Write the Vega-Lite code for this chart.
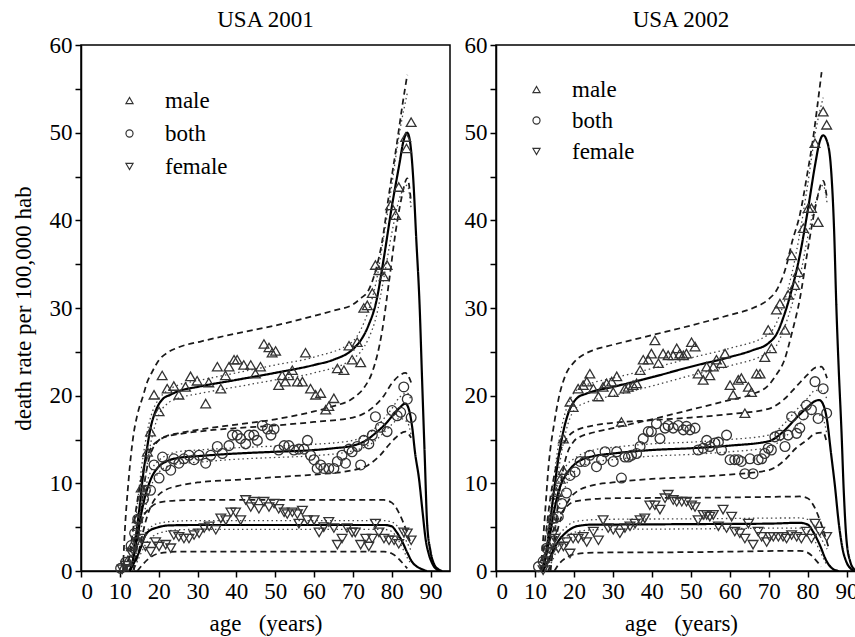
{
"$schema": "https://vega.github.io/schema/vega-lite/v6.json",
"padding": {"left": 11, "top": 8, "right": 0, "bottom": 0},
"background": "white",
"spacing": 12,
"config": {
 "font": "Liberation Serif",
 "view": {"stroke": "black", "strokeWidth": 1.5},
 "title": {"font": "Liberation Serif", "fontSize": 23, "fontWeight": "normal", "color": "black", "offset": 2, "anchor": "middle", "frame": "group"},
 "axis": {"labelFont": "Liberation Serif", "labelFontSize": 23, "labelColor": "black", "titleFont": "Liberation Serif", "titleFontSize": 23, "titleFontWeight": "normal", "titleColor": "black", "domainColor": "black", "domainWidth": 1.5, "tickColor": "black", "tickWidth": 1.5, "tickSize": 6, "grid": false, "labelPadding": 3},
 "legend": {"labelFont": "Liberation Serif", "labelFontSize": 23, "labelColor": "black"}
},
"datasets": {
"pts": [
{"p":"2001","s":"male","a":11,"v":0.5},{"p":"2001","s":"male","a":12,"v":1.2},{"p":"2001","s":"male","a":13,"v":2.8},{"p":"2001","s":"male","a":14.5,"v":6},{"p":"2001","s":"male","a":15.5,"v":9.5},{"p":"2001","s":"male","a":17.1,"v":13.6},{"p":"2001","s":"male","a":17.9,"v":15.9},{"p":"2001","s":"male","a":18.8,"v":20.1},{"p":"2001","s":"male","a":20.1,"v":18.2},{"p":"2001","s":"male","a":20.9,"v":22.3},{"p":"2001","s":"male","a":22.2,"v":20.8},{"p":"2001","s":"male","a":23.9,"v":21.1},{"p":"2001","s":"male","a":25.2,"v":20.1},{"p":"2001","s":"male","a":26.9,"v":21.0},{"p":"2001","s":"male","a":28.2,"v":22.2},{"p":"2001","s":"male","a":29.9,"v":21.7},{"p":"2001","s":"male","a":32.1,"v":19.1},{"p":"2001","s":"male","a":32.9,"v":21.5},{"p":"2001","s":"male","a":35.1,"v":23.3},{"p":"2001","s":"male","a":36.0,"v":20.8},{"p":"2001","s":"male","a":37.2,"v":22.3},{"p":"2001","s":"male","a":38.1,"v":23.3},{"p":"2001","s":"male","a":39.4,"v":24.1},{"p":"2001","s":"male","a":40.2,"v":24.1},{"p":"2001","s":"male","a":41.9,"v":23.5},{"p":"2001","s":"male","a":43.7,"v":23.5},{"p":"2001","s":"male","a":44.9,"v":22.5},{"p":"2001","s":"male","a":46.2,"v":23.3},{"p":"2001","s":"male","a":47.1,"v":25.9},{"p":"2001","s":"male","a":48.4,"v":25.5},{"p":"2001","s":"male","a":49.2,"v":24.9},{"p":"2001","s":"male","a":50.1,"v":25.1},{"p":"2001","s":"male","a":50.9,"v":21.2},{"p":"2001","s":"male","a":51.8,"v":22.3},{"p":"2001","s":"male","a":52.6,"v":21.6},{"p":"2001","s":"male","a":53.5,"v":22.3},{"p":"2001","s":"male","a":54.4,"v":22.9},{"p":"2001","s":"male","a":55.7,"v":21.6},{"p":"2001","s":"male","a":57.0,"v":21.6},{"p":"2001","s":"male","a":57.8,"v":24.9},{"p":"2001","s":"male","a":59.1,"v":20.8},{"p":"2001","s":"male","a":60.4,"v":20.1},{"p":"2001","s":"male","a":61.7,"v":20.3},{"p":"2001","s":"male","a":63.0,"v":18.4},{"p":"2001","s":"male","a":63.8,"v":18.8},{"p":"2001","s":"male","a":65.1,"v":19.7},{"p":"2001","s":"male","a":66.0,"v":23.1},{"p":"2001","s":"male","a":67.7,"v":22.9},{"p":"2001","s":"male","a":69.0,"v":25.7},{"p":"2001","s":"male","a":69.8,"v":24.1},{"p":"2001","s":"male","a":71.1,"v":26.1},{"p":"2001","s":"male","a":72.0,"v":23.8},{"p":"2001","s":"male","a":72.8,"v":30.0},{"p":"2001","s":"male","a":73.7,"v":30.3},{"p":"2001","s":"male","a":75.0,"v":31.7},{"p":"2001","s":"male","a":75.8,"v":34.9},{"p":"2001","s":"male","a":76.7,"v":34.3},{"p":"2001","s":"male","a":78.0,"v":33.6},{"p":"2001","s":"male","a":78.8,"v":34.9},{"p":"2001","s":"male","a":79.7,"v":41.7},{"p":"2001","s":"male","a":81.0,"v":40.6},{"p":"2001","s":"male","a":81.8,"v":43.8},{"p":"2001","s":"male","a":83.6,"v":49.5},{"p":"2001","s":"male","a":83.8,"v":48.2},{"p":"2001","s":"male","a":85.0,"v":51.2},
{"p":"2001","s":"both","a":10.2,"v":0.3},{"p":"2001","s":"both","a":11.5,"v":1.0},{"p":"2001","s":"both","a":12.9,"v":2.9},{"p":"2001","s":"both","a":13.8,"v":4.3},{"p":"2001","s":"both","a":14.6,"v":5.9},{"p":"2001","s":"both","a":16.1,"v":8.2},{"p":"2001","s":"both","a":16.6,"v":9.2},{"p":"2001","s":"both","a":17.9,"v":9.2},{"p":"2001","s":"both","a":18.8,"v":12.1},{"p":"2001","s":"both","a":20.1,"v":10.6},{"p":"2001","s":"both","a":21.0,"v":13.0},{"p":"2001","s":"both","a":21.8,"v":12.0},{"p":"2001","s":"both","a":23.1,"v":11.5},{"p":"2001","s":"both","a":23.9,"v":12.8},{"p":"2001","s":"both","a":25.2,"v":12.3},{"p":"2001","s":"both","a":26.5,"v":12.8},{"p":"2001","s":"both","a":27.8,"v":13.2},{"p":"2001","s":"both","a":29.1,"v":12.7},{"p":"2001","s":"both","a":30.4,"v":13.2},{"p":"2001","s":"both","a":32.1,"v":12.3},{"p":"2001","s":"both","a":33.4,"v":13.2},{"p":"2001","s":"both","a":35.1,"v":14.2},{"p":"2001","s":"both","a":36.4,"v":13.4},{"p":"2001","s":"both","a":38.1,"v":14.3},{"p":"2001","s":"both","a":39.0,"v":15.5},{"p":"2001","s":"both","a":40.2,"v":15.5},{"p":"2001","s":"both","a":41.1,"v":15.1},{"p":"2001","s":"both","a":42.4,"v":14.5},{"p":"2001","s":"both","a":43.3,"v":15.5},{"p":"2001","s":"both","a":44.5,"v":15.5},{"p":"2001","s":"both","a":45.4,"v":14.9},{"p":"2001","s":"both","a":46.7,"v":16.6},{"p":"2001","s":"both","a":48.0,"v":16.2},{"p":"2001","s":"both","a":48.9,"v":15.5},{"p":"2001","s":"both","a":49.7,"v":16.2},{"p":"2001","s":"both","a":50.9,"v":13.8},{"p":"2001","s":"both","a":52.3,"v":14.3},{"p":"2001","s":"both","a":53.5,"v":14.3},{"p":"2001","s":"both","a":54.8,"v":13.8},{"p":"2001","s":"both","a":56.1,"v":13.9},{"p":"2001","s":"both","a":57.4,"v":13.9},{"p":"2001","s":"both","a":58.3,"v":14.9},{"p":"2001","s":"both","a":59.1,"v":13.2},{"p":"2001","s":"both","a":60.0,"v":12.7},{"p":"2001","s":"both","a":60.8,"v":11.7},{"p":"2001","s":"both","a":61.7,"v":12.1},{"p":"2001","s":"both","a":62.5,"v":11.7},{"p":"2001","s":"both","a":63.8,"v":11.7},{"p":"2001","s":"both","a":65.1,"v":11.7},{"p":"2001","s":"both","a":66.0,"v":12.5},{"p":"2001","s":"both","a":67.2,"v":13.2},{"p":"2001","s":"both","a":68.1,"v":12.3},{"p":"2001","s":"both","a":69.0,"v":13.9},{"p":"2001","s":"both","a":69.8,"v":13.6},{"p":"2001","s":"both","a":71.1,"v":14.2},{"p":"2001","s":"both","a":72.0,"v":12.1},{"p":"2001","s":"both","a":72.8,"v":14.9},{"p":"2001","s":"both","a":74.1,"v":14.5},{"p":"2001","s":"both","a":75.0,"v":15.5},{"p":"2001","s":"both","a":75.8,"v":17.6},{"p":"2001","s":"both","a":77.1,"v":16.4},{"p":"2001","s":"both","a":78.8,"v":15.9},{"p":"2001","s":"both","a":80.1,"v":18.3},{"p":"2001","s":"both","a":81.4,"v":17.7},{"p":"2001","s":"both","a":82.3,"v":18.1},{"p":"2001","s":"both","a":83.1,"v":21.0},{"p":"2001","s":"both","a":84.0,"v":19.6},{"p":"2001","s":"both","a":85.0,"v":17.5},
{"p":"2001","s":"female","a":10.6,"v":0.2},{"p":"2001","s":"female","a":11.5,"v":0.6},{"p":"2001","s":"female","a":12.9,"v":2.1},{"p":"2001","s":"female","a":14.3,"v":3.3},{"p":"2001","s":"female","a":15.6,"v":3.7},{"p":"2001","s":"female","a":16.6,"v":2.8},{"p":"2001","s":"female","a":17.9,"v":2.2},{"p":"2001","s":"female","a":19.2,"v":3.3},{"p":"2001","s":"female","a":20.1,"v":2.8},{"p":"2001","s":"female","a":21.8,"v":3.0},{"p":"2001","s":"female","a":23.1,"v":2.6},{"p":"2001","s":"female","a":23.9,"v":4.1},{"p":"2001","s":"female","a":25.2,"v":3.9},{"p":"2001","s":"female","a":26.5,"v":3.7},{"p":"2001","s":"female","a":27.8,"v":3.7},{"p":"2001","s":"female","a":29.1,"v":4.1},{"p":"2001","s":"female","a":30.4,"v":4.3},{"p":"2001","s":"female","a":31.7,"v":4.9},{"p":"2001","s":"female","a":33.0,"v":5.1},{"p":"2001","s":"female","a":34.7,"v":4.7},{"p":"2001","s":"female","a":36.0,"v":6.0},{"p":"2001","s":"female","a":37.3,"v":5.8},{"p":"2001","s":"female","a":38.6,"v":6.7},{"p":"2001","s":"female","a":39.8,"v":6.7},{"p":"2001","s":"female","a":41.1,"v":5.8},{"p":"2001","s":"female","a":42.4,"v":8.1},{"p":"2001","s":"female","a":43.7,"v":7.3},{"p":"2001","s":"female","a":44.5,"v":7.9},{"p":"2001","s":"female","a":45.8,"v":7.1},{"p":"2001","s":"female","a":47.1,"v":7.9},{"p":"2001","s":"female","a":48.4,"v":7.3},{"p":"2001","s":"female","a":49.7,"v":7.7},{"p":"2001","s":"female","a":50.9,"v":7.1},{"p":"2001","s":"female","a":52.3,"v":6.7},{"p":"2001","s":"female","a":53.1,"v":6.5},{"p":"2001","s":"female","a":54.4,"v":6.7},{"p":"2001","s":"female","a":55.7,"v":6.5},{"p":"2001","s":"female","a":56.1,"v":5.4},{"p":"2001","s":"female","a":57.0,"v":6.9},{"p":"2001","s":"female","a":58.3,"v":5.8},{"p":"2001","s":"female","a":60.0,"v":5.8},{"p":"2001","s":"female","a":61.3,"v":4.4},{"p":"2001","s":"female","a":62.5,"v":5.0},{"p":"2001","s":"female","a":63.8,"v":5.6},{"p":"2001","s":"female","a":65.1,"v":4.9},{"p":"2001","s":"female","a":66.0,"v":3.0},{"p":"2001","s":"female","a":67.2,"v":3.7},{"p":"2001","s":"female","a":68.5,"v":4.9},{"p":"2001","s":"female","a":69.8,"v":4.4},{"p":"2001","s":"female","a":70.6,"v":4.4},{"p":"2001","s":"female","a":72.0,"v":3.0},{"p":"2001","s":"female","a":73.3,"v":3.7},{"p":"2001","s":"female","a":74.1,"v":2.8},{"p":"2001","s":"female","a":75.0,"v":3.7},{"p":"2001","s":"female","a":75.8,"v":5.4},{"p":"2001","s":"female","a":76.7,"v":4.4},{"p":"2001","s":"female","a":78.0,"v":3.7},{"p":"2001","s":"female","a":79.3,"v":3.5},{"p":"2001","s":"female","a":80.6,"v":3.5},{"p":"2001","s":"female","a":81.8,"v":3.1},{"p":"2001","s":"female","a":83.1,"v":4.4},{"p":"2001","s":"female","a":84.0,"v":4.3},{"p":"2001","s":"female","a":85.0,"v":3.5},
{"p":"2002","s":"male","a":12.5,"v":1.5},{"p":"2002","s":"male","a":13.5,"v":3},{"p":"2002","s":"male","a":14.5,"v":6},{"p":"2002","s":"male","a":15.5,"v":9},{"p":"2002","s":"male","a":16.5,"v":10.5},{"p":"2002","s":"male","a":17.3,"v":11.5},{"p":"2002","s":"male","a":17.3,"v":15.1},{"p":"2002","s":"male","a":19.0,"v":19.3},{"p":"2002","s":"male","a":19.8,"v":18.7},{"p":"2002","s":"male","a":21.1,"v":20.8},{"p":"2002","s":"male","a":22.4,"v":21.2},{"p":"2002","s":"male","a":23.3,"v":21.6},{"p":"2002","s":"male","a":24.1,"v":22.5},{"p":"2002","s":"male","a":25.0,"v":20.8},{"p":"2002","s":"male","a":26.3,"v":19.9},{"p":"2002","s":"male","a":27.5,"v":21.0},{"p":"2002","s":"male","a":28.4,"v":21.4},{"p":"2002","s":"male","a":29.7,"v":21.6},{"p":"2002","s":"male","a":30.1,"v":20.4},{"p":"2002","s":"male","a":31.0,"v":22.2},{"p":"2002","s":"male","a":32.2,"v":17.0},{"p":"2002","s":"male","a":33.1,"v":20.8},{"p":"2002","s":"male","a":34.0,"v":21.0},{"p":"2002","s":"male","a":35.2,"v":21.2},{"p":"2002","s":"male","a":36.1,"v":21.4},{"p":"2002","s":"male","a":37.0,"v":22.9},{"p":"2002","s":"male","a":37.8,"v":24.1},{"p":"2002","s":"male","a":39.1,"v":24.1},{"p":"2002","s":"male","a":39.9,"v":24.8},{"p":"2002","s":"male","a":40.8,"v":26.3},{"p":"2002","s":"male","a":41.7,"v":23.7},{"p":"2002","s":"male","a":42.9,"v":24.8},{"p":"2002","s":"male","a":44.2,"v":24.6},{"p":"2002","s":"male","a":45.5,"v":24.6},{"p":"2002","s":"male","a":46.4,"v":25.4},{"p":"2002","s":"male","a":47.2,"v":24.8},{"p":"2002","s":"male","a":48.1,"v":24.6},{"p":"2002","s":"male","a":48.9,"v":24.8},{"p":"2002","s":"male","a":50.2,"v":26.1},{"p":"2002","s":"male","a":51.1,"v":25.6},{"p":"2002","s":"male","a":51.9,"v":22.5},{"p":"2002","s":"male","a":53.2,"v":21.8},{"p":"2002","s":"male","a":54.1,"v":23.3},{"p":"2002","s":"male","a":54.9,"v":22.3},{"p":"2002","s":"male","a":55.8,"v":23.3},{"p":"2002","s":"male","a":56.6,"v":24.1},{"p":"2002","s":"male","a":57.9,"v":23.7},{"p":"2002","s":"male","a":58.8,"v":24.8},{"p":"2002","s":"male","a":60.1,"v":21.2},{"p":"2002","s":"male","a":60.9,"v":20.1},{"p":"2002","s":"male","a":62.2,"v":21.8},{"p":"2002","s":"male","a":63.0,"v":22.0},{"p":"2002","s":"male","a":63.9,"v":18.0},{"p":"2002","s":"male","a":64.8,"v":21.0},{"p":"2002","s":"male","a":65.6,"v":20.4},{"p":"2002","s":"male","a":66.9,"v":22.5},{"p":"2002","s":"male","a":67.8,"v":22.5},{"p":"2002","s":"male","a":69.0,"v":24.4},{"p":"2002","s":"male","a":69.9,"v":27.5},{"p":"2002","s":"male","a":70.7,"v":25.4},{"p":"2002","s":"male","a":72.0,"v":29.8},{"p":"2002","s":"male","a":72.9,"v":30.5},{"p":"2002","s":"male","a":74.2,"v":27.5},{"p":"2002","s":"male","a":75.0,"v":31.5},{"p":"2002","s":"male","a":75.9,"v":36.0},{"p":"2002","s":"male","a":76.7,"v":32.6},{"p":"2002","s":"male","a":77.6,"v":34.1},{"p":"2002","s":"male","a":78.9,"v":39.1},{"p":"2002","s":"male","a":80.2,"v":41.4},{"p":"2002","s":"male","a":81.0,"v":41.4},{"p":"2002","s":"male","a":81.9,"v":48.8},{"p":"2002","s":"male","a":82.7,"v":39.8},{"p":"2002","s":"male","a":84.0,"v":52.4},{"p":"2002","s":"male","a":84.9,"v":50.9},
{"p":"2002","s":"both","a":10.9,"v":0.5},{"p":"2002","s":"both","a":12.1,"v":1.1},{"p":"2002","s":"both","a":13.0,"v":2.6},{"p":"2002","s":"both","a":14.3,"v":4.5},{"p":"2002","s":"both","a":14.7,"v":6.0},{"p":"2002","s":"both","a":16.0,"v":6.2},{"p":"2002","s":"both","a":16.9,"v":7.7},{"p":"2002","s":"both","a":18.1,"v":8.9},{"p":"2002","s":"both","a":19.0,"v":10.9},{"p":"2002","s":"both","a":20.3,"v":11.3},{"p":"2002","s":"both","a":21.6,"v":12.5},{"p":"2002","s":"both","a":22.8,"v":12.5},{"p":"2002","s":"both","a":24.1,"v":13.2},{"p":"2002","s":"both","a":25.8,"v":11.9},{"p":"2002","s":"both","a":27.1,"v":12.7},{"p":"2002","s":"both","a":28.0,"v":13.6},{"p":"2002","s":"both","a":30.1,"v":12.5},{"p":"2002","s":"both","a":31.0,"v":13.6},{"p":"2002","s":"both","a":32.2,"v":10.6},{"p":"2002","s":"both","a":33.1,"v":13.0},{"p":"2002","s":"both","a":34.0,"v":13.0},{"p":"2002","s":"both","a":34.8,"v":13.2},{"p":"2002","s":"both","a":36.1,"v":13.4},{"p":"2002","s":"both","a":37.0,"v":14.2},{"p":"2002","s":"both","a":37.8,"v":15.1},{"p":"2002","s":"both","a":39.1,"v":15.9},{"p":"2002","s":"both","a":39.9,"v":15.9},{"p":"2002","s":"both","a":41.2,"v":16.8},{"p":"2002","s":"both","a":42.1,"v":15.1},{"p":"2002","s":"both","a":43.4,"v":16.3},{"p":"2002","s":"both","a":44.2,"v":16.6},{"p":"2002","s":"both","a":45.5,"v":16.3},{"p":"2002","s":"both","a":46.8,"v":16.6},{"p":"2002","s":"both","a":48.1,"v":16.1},{"p":"2002","s":"both","a":48.9,"v":16.5},{"p":"2002","s":"both","a":49.8,"v":16.1},{"p":"2002","s":"both","a":51.1,"v":16.3},{"p":"2002","s":"both","a":51.9,"v":13.8},{"p":"2002","s":"both","a":53.2,"v":14.0},{"p":"2002","s":"both","a":54.1,"v":14.9},{"p":"2002","s":"both","a":54.9,"v":14.2},{"p":"2002","s":"both","a":56.2,"v":14.6},{"p":"2002","s":"both","a":57.1,"v":14.7},{"p":"2002","s":"both","a":57.9,"v":13.8},{"p":"2002","s":"both","a":59.2,"v":15.5},{"p":"2002","s":"both","a":60.1,"v":12.7},{"p":"2002","s":"both","a":61.3,"v":12.7},{"p":"2002","s":"both","a":62.2,"v":12.7},{"p":"2002","s":"both","a":63.0,"v":12.5},{"p":"2002","s":"both","a":63.9,"v":11.1},{"p":"2002","s":"both","a":65.2,"v":12.8},{"p":"2002","s":"both","a":66.0,"v":11.1},{"p":"2002","s":"both","a":67.3,"v":12.7},{"p":"2002","s":"both","a":68.2,"v":12.8},{"p":"2002","s":"both","a":69.0,"v":13.4},{"p":"2002","s":"both","a":69.9,"v":14.0},{"p":"2002","s":"both","a":70.7,"v":13.8},{"p":"2002","s":"both","a":71.6,"v":15.3},{"p":"2002","s":"both","a":72.9,"v":15.5},{"p":"2002","s":"both","a":74.2,"v":14.2},{"p":"2002","s":"both","a":75.0,"v":15.5},{"p":"2002","s":"both","a":75.9,"v":17.6},{"p":"2002","s":"both","a":77.2,"v":15.7},{"p":"2002","s":"both","a":78.0,"v":16.3},{"p":"2002","s":"both","a":78.9,"v":17.8},{"p":"2002","s":"both","a":79.7,"v":18.9},{"p":"2002","s":"both","a":81.0,"v":18.4},{"p":"2002","s":"both","a":81.9,"v":21.6},{"p":"2002","s":"both","a":82.7,"v":17.4},{"p":"2002","s":"both","a":84.0,"v":20.8},{"p":"2002","s":"both","a":84.9,"v":18.0},
{"p":"2002","s":"female","a":12.1,"v":0.1},{"p":"2002","s":"female","a":13.0,"v":1.1},{"p":"2002","s":"female","a":14.3,"v":2.2},{"p":"2002","s":"female","a":15.1,"v":3.7},{"p":"2002","s":"female","a":16.0,"v":2.6},{"p":"2002","s":"female","a":17.3,"v":2.8},{"p":"2002","s":"female","a":18.1,"v":3.3},{"p":"2002","s":"female","a":19.0,"v":2.0},{"p":"2002","s":"female","a":19.8,"v":3.7},{"p":"2002","s":"female","a":21.1,"v":3.7},{"p":"2002","s":"female","a":22.4,"v":3.9},{"p":"2002","s":"female","a":23.3,"v":3.3},{"p":"2002","s":"female","a":25.0,"v":4.5},{"p":"2002","s":"female","a":26.3,"v":3.5},{"p":"2002","s":"female","a":27.5,"v":5.8},{"p":"2002","s":"female","a":28.8,"v":4.9},{"p":"2002","s":"female","a":30.1,"v":4.7},{"p":"2002","s":"female","a":31.8,"v":4.3},{"p":"2002","s":"female","a":33.1,"v":4.9},{"p":"2002","s":"female","a":34.4,"v":5.1},{"p":"2002","s":"female","a":35.7,"v":5.4},{"p":"2002","s":"female","a":37.0,"v":5.8},{"p":"2002","s":"female","a":38.2,"v":6.0},{"p":"2002","s":"female","a":39.5,"v":7.5},{"p":"2002","s":"female","a":40.8,"v":7.5},{"p":"2002","s":"female","a":42.1,"v":7.0},{"p":"2002","s":"female","a":43.4,"v":8.3},{"p":"2002","s":"female","a":44.2,"v":8.7},{"p":"2002","s":"female","a":45.5,"v":8.1},{"p":"2002","s":"female","a":46.4,"v":7.9},{"p":"2002","s":"female","a":47.7,"v":7.9},{"p":"2002","s":"female","a":48.9,"v":7.9},{"p":"2002","s":"female","a":50.2,"v":7.5},{"p":"2002","s":"female","a":51.1,"v":7.3},{"p":"2002","s":"female","a":51.9,"v":5.8},{"p":"2002","s":"female","a":53.2,"v":6.4},{"p":"2002","s":"female","a":54.1,"v":6.4},{"p":"2002","s":"female","a":54.9,"v":6.2},{"p":"2002","s":"female","a":55.8,"v":6.4},{"p":"2002","s":"female","a":57.1,"v":5.1},{"p":"2002","s":"female","a":58.3,"v":7.0},{"p":"2002","s":"female","a":59.2,"v":4.9},{"p":"2002","s":"female","a":60.5,"v":6.2},{"p":"2002","s":"female","a":61.3,"v":4.5},{"p":"2002","s":"female","a":62.6,"v":4.3},{"p":"2002","s":"female","a":63.9,"v":3.7},{"p":"2002","s":"female","a":64.8,"v":5.4},{"p":"2002","s":"female","a":66.0,"v":3.0},{"p":"2002","s":"female","a":67.3,"v":4.5},{"p":"2002","s":"female","a":68.2,"v":3.9},{"p":"2002","s":"female","a":69.5,"v":3.3},{"p":"2002","s":"female","a":70.3,"v":3.9},{"p":"2002","s":"female","a":71.2,"v":3.9},{"p":"2002","s":"female","a":72.5,"v":3.9},{"p":"2002","s":"female","a":73.7,"v":3.9},{"p":"2002","s":"female","a":74.6,"v":3.7},{"p":"2002","s":"female","a":75.9,"v":4.1},{"p":"2002","s":"female","a":77.2,"v":3.9},{"p":"2002","s":"female","a":78.4,"v":3.7},{"p":"2002","s":"female","a":79.7,"v":4.5},{"p":"2002","s":"female","a":81.0,"v":3.7},{"p":"2002","s":"female","a":81.9,"v":5.4},{"p":"2002","s":"female","a":83.1,"v":4.5},{"p":"2002","s":"female","a":84.9,"v":3.9}
],
"crv": [
{"p":"2001","c":"mfit","k":"fit","a":12.5,"v":0},{"p":"2001","c":"mfit","k":"fit","a":13.2,"v":0.8},{"p":"2001","c":"mfit","k":"fit","a":14,"v":3.5},{"p":"2001","c":"mfit","k":"fit","a":15,"v":7},{"p":"2001","c":"mfit","k":"fit","a":16,"v":11},{"p":"2001","c":"mfit","k":"fit","a":17,"v":14},{"p":"2001","c":"mfit","k":"fit","a":18,"v":16.5},{"p":"2001","c":"mfit","k":"fit","a":19,"v":18},{"p":"2001","c":"mfit","k":"fit","a":20,"v":19},{"p":"2001","c":"mfit","k":"fit","a":21,"v":19.6},{"p":"2001","c":"mfit","k":"fit","a":23,"v":20.1},{"p":"2001","c":"mfit","k":"fit","a":25,"v":20.5},{"p":"2001","c":"mfit","k":"fit","a":30,"v":21},{"p":"2001","c":"mfit","k":"fit","a":40,"v":21.8},{"p":"2001","c":"mfit","k":"fit","a":50,"v":22.6},{"p":"2001","c":"mfit","k":"fit","a":60,"v":23.5},{"p":"2001","c":"mfit","k":"fit","a":65,"v":24.1},{"p":"2001","c":"mfit","k":"fit","a":70,"v":25.3},{"p":"2001","c":"mfit","k":"fit","a":72,"v":26.3},{"p":"2001","c":"mfit","k":"fit","a":74,"v":28},{"p":"2001","c":"mfit","k":"fit","a":76,"v":30.7},{"p":"2001","c":"mfit","k":"fit","a":78,"v":35.8},{"p":"2001","c":"mfit","k":"fit","a":80,"v":41.5},{"p":"2001","c":"mfit","k":"fit","a":82,"v":46.5},{"p":"2001","c":"mfit","k":"fit","a":83,"v":49},{"p":"2001","c":"mfit","k":"fit","a":84,"v":50},{"p":"2001","c":"mfit","k":"fit","a":84.7,"v":49},{"p":"2001","c":"mfit","k":"fit","a":85.5,"v":45},{"p":"2001","c":"mfit","k":"fit","a":86.3,"v":38},{"p":"2001","c":"mfit","k":"fit","a":87.2,"v":30},{"p":"2001","c":"mfit","k":"fit","a":87.8,"v":22},{"p":"2001","c":"mfit","k":"fit","a":88.5,"v":13},{"p":"2001","c":"mfit","k":"fit","a":89.1,"v":5.5},{"p":"2001","c":"mfit","k":"fit","a":90,"v":2.2},{"p":"2001","c":"mfit","k":"fit","a":91,"v":0.7},{"p":"2001","c":"mfit","k":"fit","a":92,"v":0.2},{"p":"2001","c":"mfit","k":"fit","a":93,"v":0},
{"p":"2001","c":"mpu","k":"pred","a":10.8,"v":0},{"p":"2001","c":"mpu","k":"pred","a":11.1,"v":3},{"p":"2001","c":"mpu","k":"pred","a":12.3,"v":10.6},{"p":"2001","c":"mpu","k":"pred","a":13.5,"v":15.5},{"p":"2001","c":"mpu","k":"pred","a":14.5,"v":17.8},{"p":"2001","c":"mpu","k":"pred","a":16,"v":20},{"p":"2001","c":"mpu","k":"pred","a":17,"v":21.5},{"p":"2001","c":"mpu","k":"pred","a":18.3,"v":22.7},{"p":"2001","c":"mpu","k":"pred","a":20,"v":24},{"p":"2001","c":"mpu","k":"pred","a":22.6,"v":25},{"p":"2001","c":"mpu","k":"pred","a":25,"v":25.5},{"p":"2001","c":"mpu","k":"pred","a":31,"v":26.2},{"p":"2001","c":"mpu","k":"pred","a":40,"v":27.1},{"p":"2001","c":"mpu","k":"pred","a":50,"v":28},{"p":"2001","c":"mpu","k":"pred","a":60,"v":29.1},{"p":"2001","c":"mpu","k":"pred","a":65,"v":29.7},{"p":"2001","c":"mpu","k":"pred","a":70,"v":30.4},{"p":"2001","c":"mpu","k":"pred","a":72,"v":31.1},{"p":"2001","c":"mpu","k":"pred","a":74,"v":32},{"p":"2001","c":"mpu","k":"pred","a":76,"v":34.5},{"p":"2001","c":"mpu","k":"pred","a":77.5,"v":37.5},{"p":"2001","c":"mpu","k":"pred","a":79.3,"v":43},{"p":"2001","c":"mpu","k":"pred","a":81.4,"v":49},{"p":"2001","c":"mpu","k":"pred","a":82.7,"v":53},{"p":"2001","c":"mpu","k":"pred","a":84,"v":56.6},
{"p":"2001","c":"mpl","k":"pred","a":13.5,"v":0},{"p":"2001","c":"mpl","k":"pred","a":14.5,"v":3},{"p":"2001","c":"mpl","k":"pred","a":15.5,"v":7},{"p":"2001","c":"mpl","k":"pred","a":16.5,"v":10.5},{"p":"2001","c":"mpl","k":"pred","a":17.5,"v":12.8},{"p":"2001","c":"mpl","k":"pred","a":18.5,"v":14},{"p":"2001","c":"mpl","k":"pred","a":20,"v":14.9},{"p":"2001","c":"mpl","k":"pred","a":22,"v":15.4},{"p":"2001","c":"mpl","k":"pred","a":25,"v":15.7},{"p":"2001","c":"mpl","k":"pred","a":30,"v":16.1},{"p":"2001","c":"mpl","k":"pred","a":40,"v":16.7},{"p":"2001","c":"mpl","k":"pred","a":50,"v":17.3},{"p":"2001","c":"mpl","k":"pred","a":60,"v":18.2},{"p":"2001","c":"mpl","k":"pred","a":65,"v":18.8},{"p":"2001","c":"mpl","k":"pred","a":70,"v":19.7},{"p":"2001","c":"mpl","k":"pred","a":73,"v":21},{"p":"2001","c":"mpl","k":"pred","a":75,"v":22.7},{"p":"2001","c":"mpl","k":"pred","a":77.5,"v":27.3},{"p":"2001","c":"mpl","k":"pred","a":79.3,"v":33},{"p":"2001","c":"mpl","k":"pred","a":81,"v":38.7},{"p":"2001","c":"mpl","k":"pred","a":82.5,"v":42.5},{"p":"2001","c":"mpl","k":"pred","a":84,"v":44.8},{"p":"2001","c":"mpl","k":"pred","a":85,"v":42},
{"p":"2001","c":"mcu","k":"conf","a":12.5,"v":0.5},{"p":"2001","c":"mcu","k":"conf","a":13.5,"v":3.5},{"p":"2001","c":"mcu","k":"conf","a":14.5,"v":7.5},{"p":"2001","c":"mcu","k":"conf","a":15.5,"v":11.5},{"p":"2001","c":"mcu","k":"conf","a":16.5,"v":14.5},{"p":"2001","c":"mcu","k":"conf","a":17.5,"v":16.8},{"p":"2001","c":"mcu","k":"conf","a":18.5,"v":18.3},{"p":"2001","c":"mcu","k":"conf","a":20,"v":19.6},{"p":"2001","c":"mcu","k":"conf","a":22,"v":20.5},{"p":"2001","c":"mcu","k":"conf","a":25,"v":21.2},{"p":"2001","c":"mcu","k":"conf","a":30,"v":21.7},{"p":"2001","c":"mcu","k":"conf","a":40,"v":22.6},{"p":"2001","c":"mcu","k":"conf","a":50,"v":23.5},{"p":"2001","c":"mcu","k":"conf","a":60,"v":24.4},{"p":"2001","c":"mcu","k":"conf","a":70,"v":26.2},{"p":"2001","c":"mcu","k":"conf","a":72,"v":27.5},{"p":"2001","c":"mcu","k":"conf","a":74,"v":29.7},{"p":"2001","c":"mcu","k":"conf","a":76,"v":33},{"p":"2001","c":"mcu","k":"conf","a":78,"v":38.3},{"p":"2001","c":"mcu","k":"conf","a":80,"v":44},{"p":"2001","c":"mcu","k":"conf","a":82,"v":50},{"p":"2001","c":"mcu","k":"conf","a":84,"v":54.5},
{"p":"2001","c":"mcl","k":"conf","a":13,"v":0},{"p":"2001","c":"mcl","k":"conf","a":14,"v":2.5},{"p":"2001","c":"mcl","k":"conf","a":15,"v":5.5},{"p":"2001","c":"mcl","k":"conf","a":16,"v":9},{"p":"2001","c":"mcl","k":"conf","a":17,"v":12},{"p":"2001","c":"mcl","k":"conf","a":18,"v":14.7},{"p":"2001","c":"mcl","k":"conf","a":19,"v":16.5},{"p":"2001","c":"mcl","k":"conf","a":20,"v":17.8},{"p":"2001","c":"mcl","k":"conf","a":22,"v":19},{"p":"2001","c":"mcl","k":"conf","a":25,"v":19.7},{"p":"2001","c":"mcl","k":"conf","a":30,"v":20.2},{"p":"2001","c":"mcl","k":"conf","a":40,"v":21},{"p":"2001","c":"mcl","k":"conf","a":50,"v":21.8},{"p":"2001","c":"mcl","k":"conf","a":60,"v":22.6},{"p":"2001","c":"mcl","k":"conf","a":70,"v":24.2},{"p":"2001","c":"mcl","k":"conf","a":72,"v":25},{"p":"2001","c":"mcl","k":"conf","a":74,"v":26.5},{"p":"2001","c":"mcl","k":"conf","a":76,"v":29},{"p":"2001","c":"mcl","k":"conf","a":78,"v":33.5},{"p":"2001","c":"mcl","k":"conf","a":80,"v":38.5},{"p":"2001","c":"mcl","k":"conf","a":82,"v":42.5},{"p":"2001","c":"mcl","k":"conf","a":84,"v":44},{"p":"2001","c":"mcl","k":"conf","a":85,"v":41.3},
{"p":"2001","c":"bfit","k":"fit","a":12.5,"v":0},{"p":"2001","c":"bfit","k":"fit","a":13.5,"v":1.5},{"p":"2001","c":"bfit","k":"fit","a":14.5,"v":4},{"p":"2001","c":"bfit","k":"fit","a":15.5,"v":6.5},{"p":"2001","c":"bfit","k":"fit","a":16.5,"v":8.5},{"p":"2001","c":"bfit","k":"fit","a":18,"v":10.5},{"p":"2001","c":"bfit","k":"fit","a":20,"v":11.9},{"p":"2001","c":"bfit","k":"fit","a":22,"v":12.5},{"p":"2001","c":"bfit","k":"fit","a":25,"v":12.9},{"p":"2001","c":"bfit","k":"fit","a":30,"v":13.1},{"p":"2001","c":"bfit","k":"fit","a":40,"v":13.4},{"p":"2001","c":"bfit","k":"fit","a":50,"v":13.6},{"p":"2001","c":"bfit","k":"fit","a":60,"v":13.8},{"p":"2001","c":"bfit","k":"fit","a":65,"v":14},{"p":"2001","c":"bfit","k":"fit","a":70,"v":14.3},{"p":"2001","c":"bfit","k":"fit","a":73,"v":14.8},{"p":"2001","c":"bfit","k":"fit","a":76,"v":15.8},{"p":"2001","c":"bfit","k":"fit","a":78,"v":16.6},{"p":"2001","c":"bfit","k":"fit","a":80,"v":17.6},{"p":"2001","c":"bfit","k":"fit","a":82,"v":18.6},{"p":"2001","c":"bfit","k":"fit","a":83.5,"v":19.1},{"p":"2001","c":"bfit","k":"fit","a":84.5,"v":18.3},{"p":"2001","c":"bfit","k":"fit","a":85.3,"v":16.3},{"p":"2001","c":"bfit","k":"fit","a":86,"v":13.5},{"p":"2001","c":"bfit","k":"fit","a":87,"v":10.6},{"p":"2001","c":"bfit","k":"fit","a":88,"v":6.5},{"p":"2001","c":"bfit","k":"fit","a":88.7,"v":3.7},{"p":"2001","c":"bfit","k":"fit","a":89.5,"v":2},{"p":"2001","c":"bfit","k":"fit","a":90.5,"v":0.8},{"p":"2001","c":"bfit","k":"fit","a":91.5,"v":0.2},{"p":"2001","c":"bfit","k":"fit","a":92.5,"v":0},
{"p":"2001","c":"bpu","k":"pred","a":11.5,"v":0},{"p":"2001","c":"bpu","k":"pred","a":12.5,"v":2},{"p":"2001","c":"bpu","k":"pred","a":13.5,"v":5},{"p":"2001","c":"bpu","k":"pred","a":14.5,"v":8},{"p":"2001","c":"bpu","k":"pred","a":15.5,"v":10.5},{"p":"2001","c":"bpu","k":"pred","a":16.5,"v":12.3},{"p":"2001","c":"bpu","k":"pred","a":18,"v":14},{"p":"2001","c":"bpu","k":"pred","a":20,"v":14.9},{"p":"2001","c":"bpu","k":"pred","a":22.5,"v":15.4},{"p":"2001","c":"bpu","k":"pred","a":25,"v":15.6},{"p":"2001","c":"bpu","k":"pred","a":30,"v":15.9},{"p":"2001","c":"bpu","k":"pred","a":40,"v":16.3},{"p":"2001","c":"bpu","k":"pred","a":50,"v":16.6},{"p":"2001","c":"bpu","k":"pred","a":60,"v":17},{"p":"2001","c":"bpu","k":"pred","a":70,"v":17.5},{"p":"2001","c":"bpu","k":"pred","a":75,"v":18.6},{"p":"2001","c":"bpu","k":"pred","a":78,"v":20},{"p":"2001","c":"bpu","k":"pred","a":80,"v":21.4},{"p":"2001","c":"bpu","k":"pred","a":82,"v":22.3},{"p":"2001","c":"bpu","k":"pred","a":83.5,"v":22.6},{"p":"2001","c":"bpu","k":"pred","a":85,"v":21.5},
{"p":"2001","c":"bpl","k":"pred","a":13.5,"v":0},{"p":"2001","c":"bpl","k":"pred","a":15,"v":2.5},{"p":"2001","c":"bpl","k":"pred","a":16,"v":4.5},{"p":"2001","c":"bpl","k":"pred","a":17,"v":6.2},{"p":"2001","c":"bpl","k":"pred","a":18,"v":7.4},{"p":"2001","c":"bpl","k":"pred","a":20,"v":8.7},{"p":"2001","c":"bpl","k":"pred","a":22,"v":9.3},{"p":"2001","c":"bpl","k":"pred","a":25,"v":9.7},{"p":"2001","c":"bpl","k":"pred","a":30,"v":10.1},{"p":"2001","c":"bpl","k":"pred","a":40,"v":10.4},{"p":"2001","c":"bpl","k":"pred","a":50,"v":10.7},{"p":"2001","c":"bpl","k":"pred","a":60,"v":11},{"p":"2001","c":"bpl","k":"pred","a":70,"v":11.5},{"p":"2001","c":"bpl","k":"pred","a":74,"v":12.1},{"p":"2001","c":"bpl","k":"pred","a":77,"v":13.2},{"p":"2001","c":"bpl","k":"pred","a":79.3,"v":14.4},{"p":"2001","c":"bpl","k":"pred","a":81,"v":15.2},{"p":"2001","c":"bpl","k":"pred","a":83.5,"v":15.9},{"p":"2001","c":"bpl","k":"pred","a":85,"v":15.2},
{"p":"2001","c":"bcu","k":"conf","a":12.5,"v":0.5},{"p":"2001","c":"bcu","k":"conf","a":14,"v":4},{"p":"2001","c":"bcu","k":"conf","a":16,"v":8.5},{"p":"2001","c":"bcu","k":"conf","a":18,"v":11.4},{"p":"2001","c":"bcu","k":"conf","a":20,"v":12.6},{"p":"2001","c":"bcu","k":"conf","a":22,"v":13.2},{"p":"2001","c":"bcu","k":"conf","a":25,"v":13.6},{"p":"2001","c":"bcu","k":"conf","a":30,"v":13.8},{"p":"2001","c":"bcu","k":"conf","a":40,"v":14.05},{"p":"2001","c":"bcu","k":"conf","a":50,"v":14.25},{"p":"2001","c":"bcu","k":"conf","a":60,"v":14.45},{"p":"2001","c":"bcu","k":"conf","a":70,"v":14.9},{"p":"2001","c":"bcu","k":"conf","a":75,"v":16},{"p":"2001","c":"bcu","k":"conf","a":78,"v":17.4},{"p":"2001","c":"bcu","k":"conf","a":80,"v":18.5},{"p":"2001","c":"bcu","k":"conf","a":82,"v":19.8},{"p":"2001","c":"bcu","k":"conf","a":84,"v":20.3},{"p":"2001","c":"bcu","k":"conf","a":85,"v":19.5},
{"p":"2001","c":"bcl","k":"conf","a":13,"v":0},{"p":"2001","c":"bcl","k":"conf","a":14.5,"v":2.5},{"p":"2001","c":"bcl","k":"conf","a":16,"v":6},{"p":"2001","c":"bcl","k":"conf","a":18,"v":9.6},{"p":"2001","c":"bcl","k":"conf","a":20,"v":11.2},{"p":"2001","c":"bcl","k":"conf","a":22,"v":11.9},{"p":"2001","c":"bcl","k":"conf","a":25,"v":12.2},{"p":"2001","c":"bcl","k":"conf","a":30,"v":12.4},{"p":"2001","c":"bcl","k":"conf","a":40,"v":12.75},{"p":"2001","c":"bcl","k":"conf","a":50,"v":12.95},{"p":"2001","c":"bcl","k":"conf","a":60,"v":13.15},{"p":"2001","c":"bcl","k":"conf","a":70,"v":13.7},{"p":"2001","c":"bcl","k":"conf","a":75,"v":14.6},{"p":"2001","c":"bcl","k":"conf","a":78,"v":15.8},{"p":"2001","c":"bcl","k":"conf","a":80,"v":16.7},{"p":"2001","c":"bcl","k":"conf","a":82,"v":17.4},{"p":"2001","c":"bcl","k":"conf","a":84,"v":17},{"p":"2001","c":"bcl","k":"conf","a":85,"v":15.5},
{"p":"2001","c":"ffit","k":"fit","a":12.5,"v":0},{"p":"2001","c":"ffit","k":"fit","a":13.5,"v":0.8},{"p":"2001","c":"ffit","k":"fit","a":15,"v":2.2},{"p":"2001","c":"ffit","k":"fit","a":16.6,"v":4.1},{"p":"2001","c":"ffit","k":"fit","a":18,"v":4.7},{"p":"2001","c":"ffit","k":"fit","a":19.2,"v":4.9},{"p":"2001","c":"ffit","k":"fit","a":22.6,"v":5.2},{"p":"2001","c":"ffit","k":"fit","a":30,"v":5.25},{"p":"2001","c":"ffit","k":"fit","a":50,"v":5.25},{"p":"2001","c":"ffit","k":"fit","a":78,"v":5.25},{"p":"2001","c":"ffit","k":"fit","a":80,"v":5.1},{"p":"2001","c":"ffit","k":"fit","a":81,"v":4.6},{"p":"2001","c":"ffit","k":"fit","a":82.7,"v":3.35},{"p":"2001","c":"ffit","k":"fit","a":84,"v":2.1},{"p":"2001","c":"ffit","k":"fit","a":85.3,"v":1.0},{"p":"2001","c":"ffit","k":"fit","a":86.5,"v":0.5},{"p":"2001","c":"ffit","k":"fit","a":87.8,"v":0.2},{"p":"2001","c":"ffit","k":"fit","a":89,"v":0},
{"p":"2001","c":"fpu","k":"pred","a":11,"v":0},{"p":"2001","c":"fpu","k":"pred","a":12,"v":1},{"p":"2001","c":"fpu","k":"pred","a":13,"v":2.5},{"p":"2001","c":"fpu","k":"pred","a":14,"v":4},{"p":"2001","c":"fpu","k":"pred","a":15,"v":5.2},{"p":"2001","c":"fpu","k":"pred","a":16,"v":6.2},{"p":"2001","c":"fpu","k":"pred","a":18,"v":7.3},{"p":"2001","c":"fpu","k":"pred","a":20,"v":7.8},{"p":"2001","c":"fpu","k":"pred","a":25,"v":8.05},{"p":"2001","c":"fpu","k":"pred","a":30,"v":8.1},{"p":"2001","c":"fpu","k":"pred","a":78,"v":8.1},{"p":"2001","c":"fpu","k":"pred","a":80,"v":7.8},{"p":"2001","c":"fpu","k":"pred","a":81,"v":7.3},{"p":"2001","c":"fpu","k":"pred","a":82,"v":6.5},{"p":"2001","c":"fpu","k":"pred","a":83,"v":5.5},{"p":"2001","c":"fpu","k":"pred","a":84,"v":4.3},{"p":"2001","c":"fpu","k":"pred","a":85,"v":3},
{"p":"2001","c":"fpl","k":"pred","a":14.5,"v":0},{"p":"2001","c":"fpl","k":"pred","a":16,"v":0.8},{"p":"2001","c":"fpl","k":"pred","a":18,"v":1.6},{"p":"2001","c":"fpl","k":"pred","a":20,"v":2.0},{"p":"2001","c":"fpl","k":"pred","a":25,"v":2.2},{"p":"2001","c":"fpl","k":"pred","a":78,"v":2.2},{"p":"2001","c":"fpl","k":"pred","a":80,"v":2.0},{"p":"2001","c":"fpl","k":"pred","a":82,"v":1.3},{"p":"2001","c":"fpl","k":"pred","a":83,"v":0.8},{"p":"2001","c":"fpl","k":"pred","a":84,"v":0.3},
{"p":"2001","c":"fcu","k":"conf","a":13,"v":0.5},{"p":"2001","c":"fcu","k":"conf","a":15,"v":3.2},{"p":"2001","c":"fcu","k":"conf","a":17,"v":4.6},{"p":"2001","c":"fcu","k":"conf","a":20,"v":5.45},{"p":"2001","c":"fcu","k":"conf","a":25,"v":5.7},{"p":"2001","c":"fcu","k":"conf","a":30,"v":5.75},{"p":"2001","c":"fcu","k":"conf","a":78,"v":5.75},{"p":"2001","c":"fcu","k":"conf","a":80,"v":5.6},{"p":"2001","c":"fcu","k":"conf","a":82,"v":4.8},{"p":"2001","c":"fcu","k":"conf","a":84,"v":3.2},{"p":"2001","c":"fcu","k":"conf","a":85,"v":2.3},
{"p":"2001","c":"fcl","k":"conf","a":13.5,"v":0},{"p":"2001","c":"fcl","k":"conf","a":15,"v":1.6},{"p":"2001","c":"fcl","k":"conf","a":17,"v":3.3},{"p":"2001","c":"fcl","k":"conf","a":20,"v":4.3},{"p":"2001","c":"fcl","k":"conf","a":25,"v":4.7},{"p":"2001","c":"fcl","k":"conf","a":30,"v":4.75},{"p":"2001","c":"fcl","k":"conf","a":78,"v":4.75},{"p":"2001","c":"fcl","k":"conf","a":80,"v":4.5},{"p":"2001","c":"fcl","k":"conf","a":82,"v":3.3},{"p":"2001","c":"fcl","k":"conf","a":84,"v":1.5},{"p":"2001","c":"fcl","k":"conf","a":85,"v":0.8},
{"p":"2002","c":"mfit","k":"fit","a":12,"v":0},{"p":"2002","c":"mfit","k":"fit","a":13,"v":2.5},{"p":"2002","c":"mfit","k":"fit","a":14,"v":6},{"p":"2002","c":"mfit","k":"fit","a":15,"v":9.5},{"p":"2002","c":"mfit","k":"fit","a":16,"v":12.8},{"p":"2002","c":"mfit","k":"fit","a":17,"v":15.3},{"p":"2002","c":"mfit","k":"fit","a":18,"v":17.2},{"p":"2002","c":"mfit","k":"fit","a":19,"v":18.5},{"p":"2002","c":"mfit","k":"fit","a":20,"v":19.3},{"p":"2002","c":"mfit","k":"fit","a":21,"v":19.8},{"p":"2002","c":"mfit","k":"fit","a":23,"v":20.2},{"p":"2002","c":"mfit","k":"fit","a":25,"v":20.5},{"p":"2002","c":"mfit","k":"fit","a":30,"v":21},{"p":"2002","c":"mfit","k":"fit","a":40,"v":22.1},{"p":"2002","c":"mfit","k":"fit","a":50,"v":23.3},{"p":"2002","c":"mfit","k":"fit","a":60,"v":24.4},{"p":"2002","c":"mfit","k":"fit","a":66,"v":25.2},{"p":"2002","c":"mfit","k":"fit","a":70,"v":26},{"p":"2002","c":"mfit","k":"fit","a":72,"v":27},{"p":"2002","c":"mfit","k":"fit","a":74,"v":29.2},{"p":"2002","c":"mfit","k":"fit","a":76,"v":32.2},{"p":"2002","c":"mfit","k":"fit","a":78,"v":36},{"p":"2002","c":"mfit","k":"fit","a":80,"v":41},{"p":"2002","c":"mfit","k":"fit","a":82,"v":46.5},{"p":"2002","c":"mfit","k":"fit","a":83,"v":48.8},{"p":"2002","c":"mfit","k":"fit","a":84,"v":49.7},{"p":"2002","c":"mfit","k":"fit","a":85,"v":49},{"p":"2002","c":"mfit","k":"fit","a":86,"v":46},{"p":"2002","c":"mfit","k":"fit","a":86.8,"v":39},{"p":"2002","c":"mfit","k":"fit","a":87.4,"v":30},{"p":"2002","c":"mfit","k":"fit","a":88,"v":23},{"p":"2002","c":"mfit","k":"fit","a":88.7,"v":16},{"p":"2002","c":"mfit","k":"fit","a":89.3,"v":9},{"p":"2002","c":"mfit","k":"fit","a":90,"v":3.5},{"p":"2002","c":"mfit","k":"fit","a":91,"v":1},{"p":"2002","c":"mfit","k":"fit","a":92,"v":0.2},{"p":"2002","c":"mfit","k":"fit","a":93,"v":0},
{"p":"2002","c":"mpu","k":"pred","a":11.5,"v":0},{"p":"2002","c":"mpu","k":"pred","a":12.5,"v":6},{"p":"2002","c":"mpu","k":"pred","a":13.5,"v":12},{"p":"2002","c":"mpu","k":"pred","a":15,"v":17},{"p":"2002","c":"mpu","k":"pred","a":16,"v":19.5},{"p":"2002","c":"mpu","k":"pred","a":18,"v":22.5},{"p":"2002","c":"mpu","k":"pred","a":20,"v":23.8},{"p":"2002","c":"mpu","k":"pred","a":23,"v":24.8},{"p":"2002","c":"mpu","k":"pred","a":25,"v":25.2},{"p":"2002","c":"mpu","k":"pred","a":30,"v":25.8},{"p":"2002","c":"mpu","k":"pred","a":40,"v":26.9},{"p":"2002","c":"mpu","k":"pred","a":50,"v":28},{"p":"2002","c":"mpu","k":"pred","a":60,"v":29.2},{"p":"2002","c":"mpu","k":"pred","a":66,"v":30},{"p":"2002","c":"mpu","k":"pred","a":70,"v":31},{"p":"2002","c":"mpu","k":"pred","a":72,"v":32},{"p":"2002","c":"mpu","k":"pred","a":74.6,"v":34.9},{"p":"2002","c":"mpu","k":"pred","a":76,"v":37.5},{"p":"2002","c":"mpu","k":"pred","a":78,"v":40.6},{"p":"2002","c":"mpu","k":"pred","a":80,"v":45.5},{"p":"2002","c":"mpu","k":"pred","a":81.4,"v":49.3},{"p":"2002","c":"mpu","k":"pred","a":82.5,"v":53},{"p":"2002","c":"mpu","k":"pred","a":83.6,"v":56.9},
{"p":"2002","c":"mpl","k":"pred","a":14,"v":0},{"p":"2002","c":"mpl","k":"pred","a":15,"v":4},{"p":"2002","c":"mpl","k":"pred","a":16,"v":8},{"p":"2002","c":"mpl","k":"pred","a":17,"v":11},{"p":"2002","c":"mpl","k":"pred","a":18,"v":13},{"p":"2002","c":"mpl","k":"pred","a":20,"v":14.8},{"p":"2002","c":"mpl","k":"pred","a":22,"v":15.4},{"p":"2002","c":"mpl","k":"pred","a":25,"v":15.8},{"p":"2002","c":"mpl","k":"pred","a":30,"v":16.3},{"p":"2002","c":"mpl","k":"pred","a":40,"v":17.3},{"p":"2002","c":"mpl","k":"pred","a":50,"v":18.4},{"p":"2002","c":"mpl","k":"pred","a":60,"v":19.5},{"p":"2002","c":"mpl","k":"pred","a":66,"v":20.2},{"p":"2002","c":"mpl","k":"pred","a":70,"v":21.2},{"p":"2002","c":"mpl","k":"pred","a":72,"v":22.4},{"p":"2002","c":"mpl","k":"pred","a":74,"v":24},{"p":"2002","c":"mpl","k":"pred","a":76,"v":27.2},{"p":"2002","c":"mpl","k":"pred","a":78,"v":31},{"p":"2002","c":"mpl","k":"pred","a":80,"v":36.5},{"p":"2002","c":"mpl","k":"pred","a":82,"v":41.5},{"p":"2002","c":"mpl","k":"pred","a":84,"v":44.5},{"p":"2002","c":"mpl","k":"pred","a":85,"v":42.5},
{"p":"2002","c":"mcu","k":"conf","a":12.5,"v":0.5},{"p":"2002","c":"mcu","k":"conf","a":14,"v":7},{"p":"2002","c":"mcu","k":"conf","a":15,"v":11},{"p":"2002","c":"mcu","k":"conf","a":16,"v":14.3},{"p":"2002","c":"mcu","k":"conf","a":17,"v":16.7},{"p":"2002","c":"mcu","k":"conf","a":18,"v":18.4},{"p":"2002","c":"mcu","k":"conf","a":20,"v":20.3},{"p":"2002","c":"mcu","k":"conf","a":23,"v":21.2},{"p":"2002","c":"mcu","k":"conf","a":25,"v":21.5},{"p":"2002","c":"mcu","k":"conf","a":30,"v":22},{"p":"2002","c":"mcu","k":"conf","a":40,"v":23.1},{"p":"2002","c":"mcu","k":"conf","a":50,"v":24.3},{"p":"2002","c":"mcu","k":"conf","a":60,"v":25.4},{"p":"2002","c":"mcu","k":"conf","a":70,"v":27},{"p":"2002","c":"mcu","k":"conf","a":72,"v":28.3},{"p":"2002","c":"mcu","k":"conf","a":74,"v":30.7},{"p":"2002","c":"mcu","k":"conf","a":76,"v":34},{"p":"2002","c":"mcu","k":"conf","a":78,"v":38.5},{"p":"2002","c":"mcu","k":"conf","a":80,"v":44},{"p":"2002","c":"mcu","k":"conf","a":82,"v":50},{"p":"2002","c":"mcu","k":"conf","a":84,"v":54},
{"p":"2002","c":"mcl","k":"conf","a":13,"v":0},{"p":"2002","c":"mcl","k":"conf","a":14,"v":4.5},{"p":"2002","c":"mcl","k":"conf","a":15,"v":8},{"p":"2002","c":"mcl","k":"conf","a":16,"v":11.3},{"p":"2002","c":"mcl","k":"conf","a":17,"v":13.9},{"p":"2002","c":"mcl","k":"conf","a":18,"v":16},{"p":"2002","c":"mcl","k":"conf","a":20,"v":18.3},{"p":"2002","c":"mcl","k":"conf","a":23,"v":19.2},{"p":"2002","c":"mcl","k":"conf","a":25,"v":19.5},{"p":"2002","c":"mcl","k":"conf","a":30,"v":20},{"p":"2002","c":"mcl","k":"conf","a":40,"v":21.1},{"p":"2002","c":"mcl","k":"conf","a":50,"v":22.3},{"p":"2002","c":"mcl","k":"conf","a":60,"v":23.4},{"p":"2002","c":"mcl","k":"conf","a":70,"v":25},{"p":"2002","c":"mcl","k":"conf","a":72,"v":25.7},{"p":"2002","c":"mcl","k":"conf","a":74,"v":27.7},{"p":"2002","c":"mcl","k":"conf","a":76,"v":30.4},{"p":"2002","c":"mcl","k":"conf","a":78,"v":33.5},{"p":"2002","c":"mcl","k":"conf","a":80,"v":38},{"p":"2002","c":"mcl","k":"conf","a":82,"v":42},{"p":"2002","c":"mcl","k":"conf","a":84,"v":44},{"p":"2002","c":"mcl","k":"conf","a":85,"v":42},
{"p":"2002","c":"bfit","k":"fit","a":12,"v":0},{"p":"2002","c":"bfit","k":"fit","a":13,"v":2},{"p":"2002","c":"bfit","k":"fit","a":14,"v":4.5},{"p":"2002","c":"bfit","k":"fit","a":15,"v":7},{"p":"2002","c":"bfit","k":"fit","a":16,"v":9},{"p":"2002","c":"bfit","k":"fit","a":17,"v":10.2},{"p":"2002","c":"bfit","k":"fit","a":18,"v":11},{"p":"2002","c":"bfit","k":"fit","a":20,"v":12.1},{"p":"2002","c":"bfit","k":"fit","a":22,"v":12.7},{"p":"2002","c":"bfit","k":"fit","a":25,"v":13.1},{"p":"2002","c":"bfit","k":"fit","a":30,"v":13.4},{"p":"2002","c":"bfit","k":"fit","a":40,"v":13.8},{"p":"2002","c":"bfit","k":"fit","a":50,"v":14},{"p":"2002","c":"bfit","k":"fit","a":60,"v":14.3},{"p":"2002","c":"bfit","k":"fit","a":70,"v":14.8},{"p":"2002","c":"bfit","k":"fit","a":74,"v":16},{"p":"2002","c":"bfit","k":"fit","a":77,"v":17.4},{"p":"2002","c":"bfit","k":"fit","a":80,"v":18.7},{"p":"2002","c":"bfit","k":"fit","a":82,"v":19.4},{"p":"2002","c":"bfit","k":"fit","a":83,"v":19.5},{"p":"2002","c":"bfit","k":"fit","a":84,"v":19},{"p":"2002","c":"bfit","k":"fit","a":85,"v":17.2},{"p":"2002","c":"bfit","k":"fit","a":86,"v":13.5},{"p":"2002","c":"bfit","k":"fit","a":87,"v":9.8},{"p":"2002","c":"bfit","k":"fit","a":88,"v":5.5},{"p":"2002","c":"bfit","k":"fit","a":89,"v":2.5},{"p":"2002","c":"bfit","k":"fit","a":90,"v":1},{"p":"2002","c":"bfit","k":"fit","a":91,"v":0.3},{"p":"2002","c":"bfit","k":"fit","a":92,"v":0},
{"p":"2002","c":"bpu","k":"pred","a":11.5,"v":0},{"p":"2002","c":"bpu","k":"pred","a":12,"v":1.5},{"p":"2002","c":"bpu","k":"pred","a":13,"v":5},{"p":"2002","c":"bpu","k":"pred","a":14,"v":8.5},{"p":"2002","c":"bpu","k":"pred","a":15,"v":11},{"p":"2002","c":"bpu","k":"pred","a":16,"v":13},{"p":"2002","c":"bpu","k":"pred","a":18,"v":15},{"p":"2002","c":"bpu","k":"pred","a":20,"v":15.9},{"p":"2002","c":"bpu","k":"pred","a":25,"v":16.6},{"p":"2002","c":"bpu","k":"pred","a":30,"v":16.9},{"p":"2002","c":"bpu","k":"pred","a":40,"v":17.2},{"p":"2002","c":"bpu","k":"pred","a":50,"v":17.5},{"p":"2002","c":"bpu","k":"pred","a":60,"v":17.9},{"p":"2002","c":"bpu","k":"pred","a":70,"v":18.5},{"p":"2002","c":"bpu","k":"pred","a":74,"v":19.6},{"p":"2002","c":"bpu","k":"pred","a":77,"v":21},{"p":"2002","c":"bpu","k":"pred","a":80,"v":22.4},{"p":"2002","c":"bpu","k":"pred","a":82,"v":23.2},{"p":"2002","c":"bpu","k":"pred","a":83.5,"v":23.3},{"p":"2002","c":"bpu","k":"pred","a":85,"v":22},
{"p":"2002","c":"bpl","k":"pred","a":13.5,"v":0},{"p":"2002","c":"bpl","k":"pred","a":15,"v":3},{"p":"2002","c":"bpl","k":"pred","a":16,"v":5},{"p":"2002","c":"bpl","k":"pred","a":18,"v":7.5},{"p":"2002","c":"bpl","k":"pred","a":20,"v":8.8},{"p":"2002","c":"bpl","k":"pred","a":25,"v":9.8},{"p":"2002","c":"bpl","k":"pred","a":30,"v":10.1},{"p":"2002","c":"bpl","k":"pred","a":40,"v":10.5},{"p":"2002","c":"bpl","k":"pred","a":50,"v":10.7},{"p":"2002","c":"bpl","k":"pred","a":60,"v":11},{"p":"2002","c":"bpl","k":"pred","a":70,"v":11.5},{"p":"2002","c":"bpl","k":"pred","a":74,"v":12.6},{"p":"2002","c":"bpl","k":"pred","a":77,"v":14},{"p":"2002","c":"bpl","k":"pred","a":80,"v":15},{"p":"2002","c":"bpl","k":"pred","a":82,"v":15.7},{"p":"2002","c":"bpl","k":"pred","a":84,"v":15.8},{"p":"2002","c":"bpl","k":"pred","a":85,"v":14.5},
{"p":"2002","c":"bcu","k":"conf","a":12.5,"v":1},{"p":"2002","c":"bcu","k":"conf","a":14,"v":5.5},{"p":"2002","c":"bcu","k":"conf","a":16,"v":10},{"p":"2002","c":"bcu","k":"conf","a":18,"v":12},{"p":"2002","c":"bcu","k":"conf","a":20,"v":12.8},{"p":"2002","c":"bcu","k":"conf","a":25,"v":13.8},{"p":"2002","c":"bcu","k":"conf","a":30,"v":14.1},{"p":"2002","c":"bcu","k":"conf","a":40,"v":14.5},{"p":"2002","c":"bcu","k":"conf","a":50,"v":14.7},{"p":"2002","c":"bcu","k":"conf","a":60,"v":15},{"p":"2002","c":"bcu","k":"conf","a":70,"v":15.5},{"p":"2002","c":"bcu","k":"conf","a":74,"v":16.8},{"p":"2002","c":"bcu","k":"conf","a":77,"v":18.3},{"p":"2002","c":"bcu","k":"conf","a":80,"v":19.7},{"p":"2002","c":"bcu","k":"conf","a":82,"v":20.6},{"p":"2002","c":"bcu","k":"conf","a":84,"v":20.5},{"p":"2002","c":"bcu","k":"conf","a":85,"v":19.5},
{"p":"2002","c":"bcl","k":"conf","a":13,"v":0},{"p":"2002","c":"bcl","k":"conf","a":14.5,"v":3},{"p":"2002","c":"bcl","k":"conf","a":16,"v":7},{"p":"2002","c":"bcl","k":"conf","a":18,"v":9.8},{"p":"2002","c":"bcl","k":"conf","a":20,"v":11.3},{"p":"2002","c":"bcl","k":"conf","a":25,"v":12.4},{"p":"2002","c":"bcl","k":"conf","a":30,"v":12.7},{"p":"2002","c":"bcl","k":"conf","a":40,"v":13.1},{"p":"2002","c":"bcl","k":"conf","a":50,"v":13.3},{"p":"2002","c":"bcl","k":"conf","a":60,"v":13.6},{"p":"2002","c":"bcl","k":"conf","a":70,"v":14.1},{"p":"2002","c":"bcl","k":"conf","a":74,"v":15.2},{"p":"2002","c":"bcl","k":"conf","a":77,"v":16.5},{"p":"2002","c":"bcl","k":"conf","a":80,"v":17.6},{"p":"2002","c":"bcl","k":"conf","a":82,"v":18},{"p":"2002","c":"bcl","k":"conf","a":84,"v":17.3},{"p":"2002","c":"bcl","k":"conf","a":85,"v":15.5},
{"p":"2002","c":"ffit","k":"fit","a":12,"v":0},{"p":"2002","c":"ffit","k":"fit","a":13,"v":0.8},{"p":"2002","c":"ffit","k":"fit","a":14,"v":1.7},{"p":"2002","c":"ffit","k":"fit","a":15,"v":2.6},{"p":"2002","c":"ffit","k":"fit","a":16,"v":3.4},{"p":"2002","c":"ffit","k":"fit","a":18,"v":4.4},{"p":"2002","c":"ffit","k":"fit","a":20,"v":5},{"p":"2002","c":"ffit","k":"fit","a":22,"v":5.2},{"p":"2002","c":"ffit","k":"fit","a":25,"v":5.3},{"p":"2002","c":"ffit","k":"fit","a":30,"v":5.3},{"p":"2002","c":"ffit","k":"fit","a":50,"v":5.35},{"p":"2002","c":"ffit","k":"fit","a":70,"v":5.4},{"p":"2002","c":"ffit","k":"fit","a":78,"v":5.5},{"p":"2002","c":"ffit","k":"fit","a":80,"v":5.3},{"p":"2002","c":"ffit","k":"fit","a":81.4,"v":4.5},{"p":"2002","c":"ffit","k":"fit","a":83.1,"v":3},{"p":"2002","c":"ffit","k":"fit","a":84.9,"v":1.1},{"p":"2002","c":"ffit","k":"fit","a":86.6,"v":0.2},{"p":"2002","c":"ffit","k":"fit","a":88,"v":0},
{"p":"2002","c":"fpu","k":"pred","a":11.5,"v":0},{"p":"2002","c":"fpu","k":"pred","a":12.5,"v":1.5},{"p":"2002","c":"fpu","k":"pred","a":13.5,"v":3},{"p":"2002","c":"fpu","k":"pred","a":15,"v":5},{"p":"2002","c":"fpu","k":"pred","a":16,"v":6},{"p":"2002","c":"fpu","k":"pred","a":18,"v":7.3},{"p":"2002","c":"fpu","k":"pred","a":20,"v":7.9},{"p":"2002","c":"fpu","k":"pred","a":25,"v":8.2},{"p":"2002","c":"fpu","k":"pred","a":30,"v":8.3},{"p":"2002","c":"fpu","k":"pred","a":50,"v":8.35},{"p":"2002","c":"fpu","k":"pred","a":70,"v":8.45},{"p":"2002","c":"fpu","k":"pred","a":78,"v":8.5},{"p":"2002","c":"fpu","k":"pred","a":80,"v":8.3},{"p":"2002","c":"fpu","k":"pred","a":81.5,"v":7.5},{"p":"2002","c":"fpu","k":"pred","a":83,"v":6},{"p":"2002","c":"fpu","k":"pred","a":84.5,"v":4},{"p":"2002","c":"fpu","k":"pred","a":85.5,"v":2.5},
{"p":"2002","c":"fpl","k":"pred","a":15,"v":0},{"p":"2002","c":"fpl","k":"pred","a":16,"v":0.7},{"p":"2002","c":"fpl","k":"pred","a":18,"v":1.5},{"p":"2002","c":"fpl","k":"pred","a":20,"v":1.9},{"p":"2002","c":"fpl","k":"pred","a":25,"v":2.1},{"p":"2002","c":"fpl","k":"pred","a":50,"v":2.15},{"p":"2002","c":"fpl","k":"pred","a":78,"v":2.3},{"p":"2002","c":"fpl","k":"pred","a":80,"v":2.1},{"p":"2002","c":"fpl","k":"pred","a":82,"v":1.3},{"p":"2002","c":"fpl","k":"pred","a":83.5,"v":0.5},
{"p":"2002","c":"fcu","k":"conf","a":12.5,"v":0.5},{"p":"2002","c":"fcu","k":"conf","a":14,"v":2.3},{"p":"2002","c":"fcu","k":"conf","a":16,"v":4},{"p":"2002","c":"fcu","k":"conf","a":18,"v":5},{"p":"2002","c":"fcu","k":"conf","a":20,"v":5.6},{"p":"2002","c":"fcu","k":"conf","a":25,"v":5.85},{"p":"2002","c":"fcu","k":"conf","a":30,"v":5.9},{"p":"2002","c":"fcu","k":"conf","a":50,"v":5.95},{"p":"2002","c":"fcu","k":"conf","a":78,"v":6.05},{"p":"2002","c":"fcu","k":"conf","a":80,"v":5.9},{"p":"2002","c":"fcu","k":"conf","a":82,"v":5},{"p":"2002","c":"fcu","k":"conf","a":84,"v":3.3},{"p":"2002","c":"fcu","k":"conf","a":85,"v":2.5},
{"p":"2002","c":"fcl","k":"conf","a":13,"v":0},{"p":"2002","c":"fcl","k":"conf","a":14.5,"v":1.2},{"p":"2002","c":"fcl","k":"conf","a":16,"v":2.8},{"p":"2002","c":"fcl","k":"conf","a":18,"v":3.9},{"p":"2002","c":"fcl","k":"conf","a":20,"v":4.4},{"p":"2002","c":"fcl","k":"conf","a":25,"v":4.7},{"p":"2002","c":"fcl","k":"conf","a":30,"v":4.75},{"p":"2002","c":"fcl","k":"conf","a":50,"v":4.8},{"p":"2002","c":"fcl","k":"conf","a":78,"v":4.9},{"p":"2002","c":"fcl","k":"conf","a":80,"v":4.6},{"p":"2002","c":"fcl","k":"conf","a":82,"v":3.3},{"p":"2002","c":"fcl","k":"conf","a":84,"v":1.5},{"p":"2002","c":"fcl","k":"conf","a":85,"v":0.6}
]
},
"resolve": {"scale": {"shape": "independent"}, "legend": {"shape": "independent"}},
"hconcat": [
{
 "title": "USA 2001",
 "width": 369, "height": 526,
 "layer": [
  {
   "data": {"name": "crv"},
   "transform": [{"filter": "datum.p == '2001'"}],
   "mark": {"type": "line", "interpolate": "monotone", "clip": true},
   "encoding": {
    "x": {"field": "a", "type": "quantitative", "scale": {"domain": [0, 95], "nice": false}, "axis": {"values": [0,5,10,15,20,25,30,35,40,45,50,55,60,65,70,75,80,85,90], "labelExpr": "datum.value % 10 === 0 ? datum.label : ''", "title": "age\u00a0\u00a0\u00a0(years)", "titlePadding": 9}},
    "y": {"field": "v", "type": "quantitative", "scale": {"domain": [0, 60], "nice": false}, "axis": {"values": [0,5,10,15,20,25,30,35,40,45,50,55,60], "labelExpr": "datum.value % 10 === 0 ? datum.label : ''", "title": "death rate per 100,000 hab", "titlePadding": 14}},
    "detail": {"field": "c", "type": "nominal"},
    "strokeDash": {"field": "k", "type": "nominal", "scale": {"domain": ["fit","pred","conf"], "range": [[1,0],[6,4],[1.5,3]]}, "legend": null},
    "strokeWidth": {"field": "k", "type": "ordinal", "scale": {"domain": ["fit","pred","conf"], "range": [2.2,1.3,1.2]}, "legend": null},
    "color": {"field": "k", "type": "nominal", "scale": {"domain": ["fit","pred","conf"], "range": ["#000000","#1a1a1a","#444444"]}, "legend": null}
   }
  },
  {
   "data": {"name": "pts"},
   "transform": [{"filter": "datum.p == '2001'"}],
   "mark": {"type": "point", "filled": false, "size": 95, "strokeWidth": 1.3, "color": "#333333", "opacity": 1},
   "encoding": {
    "x": {"field": "a", "type": "quantitative"},
    "y": {"field": "v", "type": "quantitative"},
    "shape": {"field": "s", "type": "nominal", "scale": {"domain": ["male","both","female"], "range": ["triangle-up","circle","triangle-down"]},
     "legend": {"orient": "none", "legendX": 37, "legendY": 44, "title": null, "symbolSize": 50, "symbolStrokeWidth": 1.2, "symbolStrokeColor": "#333333", "symbolFillColor": "transparent", "labelOffset": 24, "rowPadding": 9, "labelFontSize": 23}}
   }
  }
 ]
},
{
 "title": "USA 2002",
 "width": 370, "height": 526,
 "layer": [
  {
   "data": {"name": "crv"},
   "transform": [{"filter": "datum.p == '2002'"}],
   "mark": {"type": "line", "interpolate": "monotone", "clip": true},
   "encoding": {
    "x": {"field": "a", "type": "quantitative", "scale": {"domain": [0, 95], "nice": false}, "axis": {"values": [0,5,10,15,20,25,30,35,40,45,50,55,60,65,70,75,80,85,90], "labelExpr": "datum.value % 10 === 0 ? datum.label : ''", "title": "age\u00a0\u00a0\u00a0(years)", "titlePadding": 9}},
    "y": {"field": "v", "type": "quantitative", "scale": {"domain": [0, 60], "nice": false}, "axis": {"values": [0,5,10,15,20,25,30,35,40,45,50,55,60], "labelExpr": "datum.value % 10 === 0 ? datum.label : ''", "title": null}},
    "detail": {"field": "c", "type": "nominal"},
    "strokeDash": {"field": "k", "type": "nominal", "scale": {"domain": ["fit","pred","conf"], "range": [[1,0],[6,4],[1.5,3]]}, "legend": null},
    "strokeWidth": {"field": "k", "type": "ordinal", "scale": {"domain": ["fit","pred","conf"], "range": [2.2,1.3,1.2]}, "legend": null},
    "color": {"field": "k", "type": "nominal", "scale": {"domain": ["fit","pred","conf"], "range": ["#000000","#1a1a1a","#444444"]}, "legend": null}
   }
  },
  {
   "data": {"name": "pts"},
   "transform": [{"filter": "datum.p == '2002'"}],
   "mark": {"type": "point", "filled": false, "size": 95, "strokeWidth": 1.3, "color": "#333333", "opacity": 1},
   "encoding": {
    "x": {"field": "a", "type": "quantitative"},
    "y": {"field": "v", "type": "quantitative"},
    "shape": {"field": "s", "type": "nominal", "scale": {"domain": ["male","both","female"], "range": ["triangle-up","circle","triangle-down"]},
     "legend": {"orient": "none", "legendX": 29, "legendY": 33, "title": null, "symbolSize": 50, "symbolStrokeWidth": 1.2, "symbolStrokeColor": "#333333", "symbolFillColor": "transparent", "labelOffset": 24, "rowPadding": 7, "labelFontSize": 23}}
   }
  }
 ]
}
]
}
